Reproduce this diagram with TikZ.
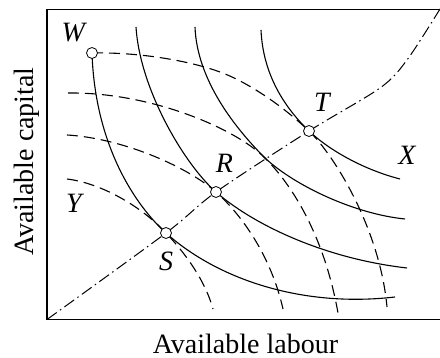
\documentclass[tikz,border=0pt]{standalone}
\usepackage{fontspec}
\setmainfont{Liberation Serif}
\newfontfamily\figfont{Liberation Serif}
\usetikzlibrary{positioning}
\tikzset{
  figframe/.style={line width=1.4pt, black},
  figxcurve/.style={line width=1.1pt, black},
  figycurve/.style={figxcurve, dash pattern=on 11pt off 6pt},
  figcontract/.style={line width=1pt, black, dash pattern=on 12pt off 4pt on 1.5pt off 4pt},
  figpoint/.style={circle, draw=black, line width=0.8pt, fill=white, minimum size=11pt, inner sep=0pt},
  figletter/.style={font=\figfont\fontsize{28}{32}\selectfont\itshape, inner sep=0pt},
  figaxis/.style={font=\figfont\fontsize{28}{32}\selectfont, inner sep=0pt},
}

\begin{document}
\begin{tikzpicture}[x=1pt, y=-1pt]
  \useasboundingbox (0,0) rectangle (440,358);
  % corners of the box and the marked points
  \coordinate (origin) at (47,319.5);
  \coordinate (topright) at (440,9.5);
  \coordinate (botright) at (440,319.5);
  \coordinate (w) at (92,53);
  \coordinate (s) at (166,233);
  \coordinate (r) at (216,192);
  \coordinate (t) at (309,131);
  \coordinate (q) at (265,158);
  \coordinate (cend) at (440,9);
  \draw[figframe] (topright) -| (origin) -- (botright);
  % isoquants X (solid)
  \draw[figxcurve] (w) .. controls (95,145) and (135,205) .. (s)
    .. controls (216,278) and (300,308) .. (395,297);
  \draw[figxcurve] (136,27) .. controls (140,90) and (185,165) .. (r)
    .. controls (250,222) and (320,258) .. (407,268);
  \draw[figxcurve] (195,27) .. controls (197,80) and (235,128) .. (q)
    .. controls (295,186) and (355,214) .. (405,219);
  \draw[figxcurve] (261,30) .. controls (263,75) and (285,108) .. (t)
    .. controls (330,151) and (365,170) .. (400,179);
  % isoquants Y (dashed)
  \draw[figycurve] (67,179) .. controls (100,183) and (140,205) .. (s)
    .. controls (185,253) and (205,280) .. (213,309);
  \draw[figycurve] (67,135) .. controls (120,138) and (185,165) .. (r)
    .. controls (245,218) and (272,260) .. (283,309);
  \draw[figycurve] (68,93) .. controls (150,92) and (235,128) .. (q)
    .. controls (295,188) and (325,240) .. (338,313);
  \draw[figycurve] (w) .. controls (140,52) and (190,61) .. (220,72)
    .. controls (250,83) and (285,108) .. (t)
    .. controls (335,156) and (380,230) .. (387,307);
  % contract curve
  \draw[figcontract] plot[smooth] coordinates {(origin) (s) (r) (t) (380,88) (407,60) (cend)};
  \node[figpoint] (W) at (w) {};
  \node[figpoint] (S) at (s) {};
  \node[figpoint] (R) at (r) {};
  \node[figpoint] (T) at (t) {};
  \node[figletter, above left=7pt and 2.8pt of W] (lw) {W};
  \node[figletter, above=13.5pt of T, xshift=13pt] (lt) {T};
  \node[figletter, above=13.5pt of R, xshift=8.5pt] (lr) {R};
  \node[figletter, below=12.5pt of S] (ls) {S};
  \node[figletter, anchor=base] (lx) at (407,165) {X};
  \node[figletter, anchor=base] (ly) at (74,213) {Y};
  \node[figaxis, anchor=base] (labour) at (245.5,354) {Available labour};
  \node[figaxis, anchor=base, rotate=90] (capital) at (33,161.5) {Available capital};
\end{tikzpicture}
\end{document}
